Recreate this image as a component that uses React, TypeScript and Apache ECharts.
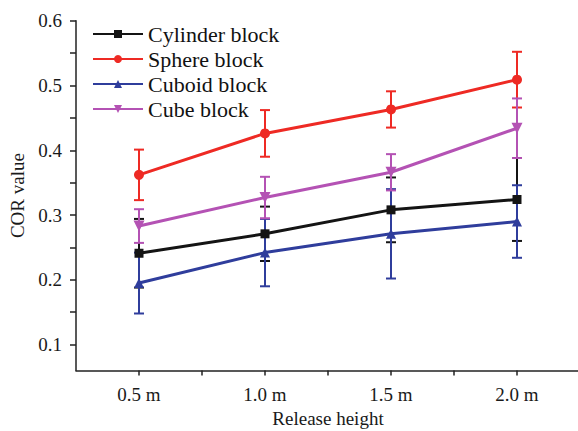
import React, { useEffect, useRef } from "react";
import * as echarts from "echarts";

const heights = [0.5, 1.0, 1.5, 2.0];
const xTickValues = [0.5, 0.75, 1.0, 1.25, 1.5, 1.75, 2.0];
const xLabelValues = [0.5, 1.0, 1.5, 2.0];
const yTickValues = [0.1, 0.15, 0.2, 0.25, 0.3, 0.35, 0.4, 0.45, 0.5, 0.55, 0.6];
const yLabelValues = [0.1, 0.2, 0.3, 0.4, 0.5, 0.6];

const seriesNames = ["Cylinder block", "Sphere block", "Cuboid block", "Cube block"];
const cylinder = [0.241, 0.271, 0.308, 0.324];
const cylinderErr = [0.053, 0.042, 0.05, 0.064];
const sphere = [0.362, 0.426, 0.463, 0.509];
const sphereErr = [0.039, 0.036, 0.028, 0.043];
const cuboid = [0.195, 0.242, 0.271, 0.29];
const cuboidErr = [0.047, 0.052, 0.069, 0.056];
const cube = [0.283, 0.327, 0.366, 0.434];
const cubeErr = [0.026, 0.032, 0.028, 0.046];

const FONT = "Liberation Serif";

export default function App() {
  const ref = useRef<HTMLDivElement>(null);
  useEffect(() => {
    if (!ref.current) return;
    const chart = echarts.init(ref.current, undefined, { renderer: "svg" });
    const defs = [
      { name: seriesNames[0], vals: cylinder, errs: cylinderErr, color: "#141414", symbol: "rect", size: 9, rot: 0 },
      { name: seriesNames[1], vals: sphere, errs: sphereErr, color: "#ee2a24", symbol: "circle", size: 10, rot: 0 },
      { name: seriesNames[2], vals: cuboid, errs: cuboidErr, color: "#2f3d9c", symbol: "triangle", size: 10, rot: 0 },
      { name: seriesNames[3], vals: cube, errs: cubeErr, color: "#b452b4", symbol: "triangle", size: 11, rot: 180 },
    ];
    const series: any[] = [];
    defs.forEach((d, k) => {
      series.push({
        type: "custom",
        name: "err" + k,
        z: 1 + k,
        silent: true,
        data: heights.map((x, i) => [x, d.vals[i] - d.errs[i], d.vals[i] + d.errs[i]]),
        renderItem: (params: any, api: any) => {
          const x = api.value(0);
          const lo = api.coord([x, api.value(1)]);
          const hi = api.coord([x, api.value(2)]);
          const w = 5;
          const st = { stroke: d.color, lineWidth: 2 };
          return {
            type: "group",
            children: [
              { type: "line", shape: { x1: lo[0], y1: lo[1], x2: hi[0], y2: hi[1] }, style: st },
              { type: "line", shape: { x1: lo[0] - w, y1: lo[1], x2: lo[0] + w, y2: lo[1] }, style: st },
              { type: "line", shape: { x1: hi[0] - w, y1: hi[1], x2: hi[0] + w, y2: hi[1] }, style: st },
            ],
          };
        },
      });
    });
    defs.forEach((d, k) => {
      series.push({
        type: "line",
        name: d.name,
        z: 10 + k,
        data: heights.map((x, i) => [x, d.vals[i]]),
        symbol: d.symbol,
        symbolSize: d.size,
        symbolRotate: d.rot,
        showAllSymbol: true,
        lineStyle: { color: d.color, width: 3 },
        itemStyle: { color: d.color },
      });
    });
    chart.setOption({
      animation: false,
      backgroundColor: "#ffffff",
      textStyle: { fontFamily: FONT },
      grid: { left: 76, right: -2, top: 20.7, bottom: 60.5, outerBoundsMode: "none" },
      legend: {
        data: seriesNames,
        orient: "vertical",
        left: 92,
        top: 23,
        padding: 0,
        itemWidth: 50,
        itemHeight: 10,
        itemGap: 3,
        textStyle: { fontFamily: FONT, fontSize: 22, color: "#111", lineHeight: 22 },
      },
      xAxis: {
        type: "value",
        min: 0.25,
        max: 2.25,
        name: "Release height",
        nameLocation: "middle",
        nameGap: 38,
        nameTextStyle: { fontFamily: FONT, fontSize: 19, color: "#1a1a1a" },
        splitLine: { show: false },
        axisLine: { show: true, lineStyle: { color: "#222", width: 1.5 } },
        axisTick: { show: true, length: 5, customValues: xTickValues, lineStyle: { color: "#222", width: 1.5 } },
        axisLabel: {
          customValues: xLabelValues,
          margin: 14,
          fontFamily: FONT,
          fontSize: 19,
          color: "#1a1a1a",
          formatter: (v: number) => v.toFixed(1) + " m",
        },
      },
      yAxis: {
        type: "value",
        min: 0.06,
        max: 0.6,
        name: "COR value",
        nameLocation: "middle",
        nameGap: 41,
        nameRotate: 90,
        nameTextStyle: { fontFamily: FONT, fontSize: 19, color: "#1a1a1a" },
        splitLine: { show: false },
        axisLine: { show: true, lineStyle: { color: "#222", width: 1.5 } },
        axisTick: { show: true, length: 6, customValues: yTickValues, lineStyle: { color: "#222", width: 1.5 } },
        axisLabel: {
          customValues: yLabelValues,
          margin: 14,
          fontFamily: FONT,
          fontSize: 19,
          color: "#1a1a1a",
          formatter: (v: number) => v.toFixed(1),
        },
      },
      series,
    });
    return () => chart.dispose();
  }, []);
  return (
    <div
      ref={ref}
      style={{ position: "fixed", left: 0, top: 0, width: 578, height: 431, background: "#fff" }}
    />
  );
}
